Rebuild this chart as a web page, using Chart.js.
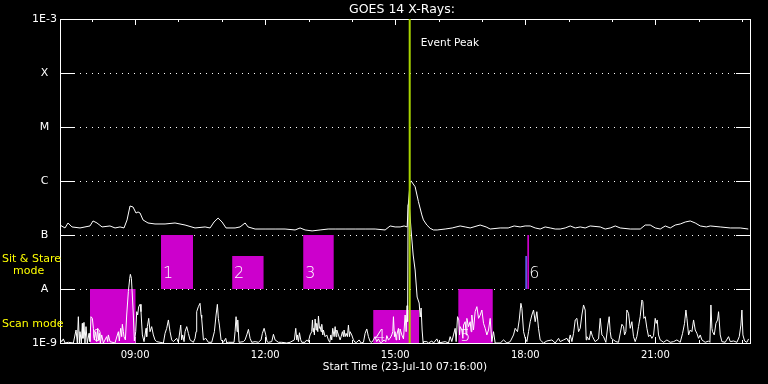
<!DOCTYPE html>
<html><head><meta charset="utf-8">
<script src="https://cdn.jsdelivr.net/npm/chart.js@4/dist/chart.umd.min.js"></script>
<style>html,body{margin:0;padding:0;background:#000;}canvas{display:block;}</style>
</head><body>
<canvas id="c" width="768" height="384"></canvas>
<script>
// ---------- data ----------
const chartTitle = 'GOES 14 X-Rays:';
const startTime = '07:16';
const startLabel = 'Start Time (23-Jul-10 07:16:00)';
const endMinutes = 955;                 // minutes since start shown on the axis
const timeTickLabels = ['09:00','12:00','15:00','18:00','21:00'];
const hourMarks = ['08:00','09:00','10:00','11:00','12:00','13:00','14:00','15:00','16:00','17:00','18:00','19:00','20:00','21:00','22:00','23:00'];
const levelValues = [1e-9,1e-8,1e-7,1e-6,1e-5,1e-4,1e-3];
const levelNames  = ['1E-9','A','B','C','M','X','1E-3'];
const eventPeakTime = '15:20';
const eventPeakLabel = 'Event Peak';
const modeLabels = ['Sit & Stare', 'mode', 'Scan mode'];

// long channel: [minutes since start, flux W/m2]
const longChannel = [[0,1.53e-7],[6.9,1.35e-7],[11.1,1.67e-7],[16.6,1.41e-7],[27.7,1.35e-7],[34.6,1.41e-7],[41.5,1.47e-7],[45.7,1.82e-7],[51.2,1.67e-7],[58.2,1.41e-7],[69.2,1.47e-7],[76.2,1.35e-7],[83.1,1.41e-7],[88.6,1.35e-7],[92.8,1.90e-7],[96.9,3.44e-7],[101.1,3.30e-7],[105.2,2.55e-7],[108,2.67e-7],[110.8,2.55e-7],[114.9,1.90e-7],[121.8,1.67e-7],[131.5,1.60e-7],[145.4,1.60e-7],[159.2,1.67e-7],[173.1,1.53e-7],[186.9,1.35e-7],[200.8,1.41e-7],[207.7,1.35e-7],[213.2,1.74e-7],[218.8,2.06e-7],[224.3,1.74e-7],[229.8,1.35e-7],[242.3,1.35e-7],[249.2,1.41e-7],[256.2,1.67e-7],[260.3,1.41e-7],[270,1.29e-7],[283.8,1.29e-7],[297.7,1.29e-7],[311.5,1.29e-7],[325.4,1.24e-7],[332.3,1.35e-7],[339.2,1.24e-7],[348.9,1.19e-7],[360,1.24e-7],[371.1,1.29e-7],[380.8,1.29e-7],[394.6,1.29e-7],[408.5,1.29e-7],[422.3,1.29e-7],[436.2,1.29e-7],[450,1.24e-7],[456.9,1.47e-7],[463.8,1.41e-7],[470.8,1.41e-7],[476.3,1.47e-7],[480.5,1.41e-7],[482,3.59e-7],[484.6,9.6e-7],[486,1.0e-6],[491.5,7.84e-7],[496.1,4.14e-7],[500.8,2.35e-7],[503,1.90e-7],[507.7,1.53e-7],[512.3,1.33e-7],[516.9,1.24e-7],[522,1.24e-7],[533.1,1.29e-7],[542.8,1.35e-7],[553.8,1.47e-7],[560.8,1.41e-7],[567.7,1.35e-7],[581.5,1.53e-7],[589.8,1.41e-7],[595.4,1.29e-7],[609.2,1.35e-7],[620.3,1.35e-7],[628.6,1.47e-7],[636.9,1.41e-7],[643.8,1.47e-7],[650.8,1.47e-7],[657.7,1.35e-7],[664.6,1.29e-7],[671.5,1.41e-7],[678.5,1.35e-7],[685.4,1.29e-7],[692.3,1.29e-7],[699.2,1.35e-7],[706.2,1.47e-7],[713.1,1.35e-7],[720,1.41e-7],[726.9,1.35e-7],[733.8,1.47e-7],[747.7,1.41e-7],[754.6,1.29e-7],[761.5,1.35e-7],[768.5,1.47e-7],[775.4,1.35e-7],[789.2,1.29e-7],[803.1,1.29e-7],[810,1.53e-7],[816.9,1.53e-7],[823.8,1.35e-7],[830.8,1.29e-7],[837.7,1.47e-7],[844.6,1.35e-7],[851.5,1.53e-7],[858.5,1.60e-7],[865.4,1.74e-7],[872.3,1.82e-7],[879.2,1.67e-7],[886.2,1.47e-7],[894.5,1.41e-7],[900,1.47e-7],[913.8,1.41e-7],[927.7,1.35e-7],[941.5,1.35e-7],[952.6,1.29e-7]];

// short channel: [minutes since start, flux W/m2]
const shortChannel = [[0,1.19e-9],[2.3,1.06e-9],[4.6,1.19e-9],[6.9,1e-9],[11.5,1.03e-9],[18.5,1e-9],[22.2,1.74e-9],[24.0,1e-9],[25.4,3.07e-9],[26.8,1e-9],[27.7,1.62e-9],[29.5,1e-9],[30.9,2.31e-9],[31.8,1.22e-9],[33.2,2.41e-9],[34.6,1e-9],[36.0,2.01e-9],[37.8,1e-9],[40.2,1.51e-9],[41.5,1.06e-9],[42.9,3.07e-9],[44.8,2.86e-9],[46.2,1.87e-9],[47.5,1.14e-9],[49.4,1.62e-9],[50.8,1.06e-9],[52.2,1.87e-9],[53.5,1.14e-9],[54.5,1.51e-9],[55.8,1e-9],[57.7,1.41e-9],[60,1e-9],[64.6,1.31e-9],[66.0,1.06e-9],[66.9,1.41e-9],[69.2,1.06e-9],[76.1,1e-9],[80.8,1.62e-9],[82.1,1.09e-9],[84.0,1.87e-9],[85.4,1.31e-9],[86.3,2.22e-9],[87.7,1.62e-9],[88.6,1.31e-9],[90.5,1.14e-9],[92.3,3.30e-9],[94.6,8.93e-9],[96.5,1.58e-8],[97.4,1.87e-8],[98.8,1.58e-8],[100.1,7.74e-9],[101.5,3.30e-9],[102.9,1.09e-9],[104.8,1.62e-9],[106.2,3.80e-9],[107.5,3.30e-9],[108.9,4.71e-9],[110.8,5.20e-9],[112.1,3.80e-9],[114.0,1.41e-9],[116.3,1.06e-9],[119.1,1.87e-9],[120.0,1.31e-9],[120.9,2.01e-9],[122.8,2.86e-9],[124.6,1.62e-9],[126.9,2.01e-9],[129.2,1.41e-9],[131.5,1.14e-9],[133.8,1.06e-9],[138.5,1.03e-9],[143.1,1e-9],[145.4,1.51e-9],[147.7,1.87e-9],[150,2.67e-9],[152.3,1.62e-9],[154.6,1.14e-9],[156.9,1.06e-9],[161.5,1.22e-9],[163.8,1.03e-9],[167.1,2.15e-9],[168.4,1.14e-9],[169.8,1.41e-9],[171.7,1.06e-9],[173.1,1.62e-9],[175.4,2.01e-9],[177.7,1.51e-9],[180.0,1.14e-9],[184.6,1.03e-9],[186.9,1.22e-9],[188.3,1.62e-9],[189.2,3.80e-9],[191.5,4.71e-9],[193.8,5.43e-9],[195.2,3.30e-9],[196.1,2.86e-9],[198.5,1.14e-9],[201.7,1.22e-9],[205.4,1.03e-9],[210,1.03e-9],[213.7,1.62e-9],[216,3.30e-9],[217.8,5.20e-9],[219.2,2.86e-9],[220.6,2.15e-9],[222.9,1.14e-9],[226.1,1.03e-9],[229.4,1.22e-9],[230.8,1e-9],[233.1,1.03e-9],[240.9,1.03e-9],
[242.3,1.62e-9],[243.7,3.07e-9],[245.1,1.62e-9],[246.0,2.67e-9],[247.8,1.03e-9],[253.8,1.06e-9],[256.1,1.14e-9],[258.5,1.41e-9],[260.8,1.79e-9],[263.1,1.22e-9],[265.4,1.03e-9],[270,1.06e-9],[274.6,1.03e-9],[278.3,1.14e-9],[280.1,1.51e-9],[282.5,1.87e-9],[284.8,1.41e-9],[286.6,1.06e-9],[288.5,1.03e-9],[293.1,1.06e-9],[295.4,1.45e-9],[297.7,1.14e-9],[302.3,1.03e-9],[306.9,1.03e-9],[313.8,1e-9],[318.4,1.03e-9],[324.4,1.14e-9],[326.3,1.87e-9],[327.7,1.14e-9],[328.6,1.41e-9],[330.0,1.06e-9],[331.4,1.55e-9],[333.2,1.14e-9],[334.6,1.03e-9],[339.2,1.03e-9],[341.5,1.14e-9],[343.8,1.06e-9],[346.1,1.41e-9],[348.4,1.62e-9],[349.4,2.67e-9],[350.3,1.62e-9],[351.2,1.87e-9],[352.1,1.41e-9],[353.1,2.78e-9],[354.4,1.74e-9],[355.4,2.31e-9],[356.8,1.62e-9],[357.7,3.16e-9],[359.1,1.87e-9],[360.0,2.01e-9],[361.4,1.62e-9],[362.3,2.22e-9],[363.7,1.41e-9],[364.6,1.74e-9],[366.9,1.31e-9],[369.2,1.41e-9],[371.5,1.14e-9],[373.4,1.03e-9],[374.8,1.41e-9],[376.1,1.14e-9],[377.5,1.87e-9],[379.4,1.31e-9],[380.8,2.01e-9],[382.1,1.31e-9],[383.1,1.74e-9],[385.4,1.41e-9],[387.7,1.14e-9],[389.1,1.31e-9],[390.9,1.62e-9],[392.3,1.31e-9],[393.2,1.74e-9],[394.6,1.31e-9],[396.0,1.51e-9],[397.8,1.31e-9],[399.2,2.15e-9],[400.6,1.31e-9],[401.5,1.62e-9],[403.8,1.41e-9],[406.1,1.14e-9],[408.4,1.03e-9],[410.7,1.03e-9],[414.0,1.14e-9],[416.8,1e-9],[420.0,1.03e-9],[422.3,1.51e-9],[424.6,1.82e-9],[426.9,1.31e-9],[429.2,1.06e-9],[431.5,1.03e-9],[433.8,1.14e-9],[436.1,1.31e-9],[438.4,1.06e-9],[440.7,1.19e-9],[443.1,1.03e-9],[445.4,1.03e-9],[448.6,1.14e-9],[450.9,1.06e-9],[452.3,1.37e-9],[454.6,1.14e-9],[456.9,1.22e-9],[459.2,1.41e-9],[460.6,1.62e-9],[461.5,3.07e-9],[462.9,1.31e-9],[463.8,1.62e-9],[465.2,1.14e-9],[466.1,1.41e-9],[468.4,1.87e-9],[469.8,1.14e-9],[470.7,1.82e-9],[473.1,1.41e-9],[475.4,1.19e-9],[477.7,3.30e-9],[479.1,1.62e-9],[480.4,4.91e-9],[481.1,2.5e-9],
[481.8,3.59e-7],[483.2,3.9e-7],[485.9,1.24e-7],[488.8,4.26e-8],[491.5,2.25e-8],[494.3,7.1e-9],[497.1,5.5e-9],[498.5,3.03e-9],[499.8,4.45e-9],[501.2,1.74e-9],[502.6,1e-9],
[503.1,1.06e-9],[507.7,1.06e-9],[510,1e-9],[514.6,1.09e-9],[517,1e-9],[521.6,1.19e-9],[523.9,1e-9],[533.1,1.06e-9],[537.7,1e-9],[540.0,1.31e-9],[542.3,1.06e-9],[544.6,1.41e-9],[546.9,1.87e-9],[548.3,1.06e-9],[550.2,3.07e-9],[552.0,2.67e-9],[553.0,1.41e-9],[553.9,2.01e-9],[556.2,1.74e-9],[557.6,1.22e-9],[558.5,2.15e-9],[560.8,2.48e-9],[562.2,1.41e-9],[563.1,2.86e-9],[565.4,2.01e-9],[567.7,2.48e-9],[569.1,1.62e-9],[570.0,3.30e-9],[572.3,1.74e-9],[574.6,3.80e-9],[577.0,4.71e-9],[579.3,2.86e-9],[581.6,3.30e-9],[583.9,4.08e-9],[586.2,2.31e-9],[588.5,1.87e-9],[590.8,1.41e-9],[593.1,1.74e-9],[595.4,2.86e-9],[597.7,1.06e-9],[600.0,1.62e-9],[602.3,1e-9],[609.3,1e-9],[613.9,1.14e-9],[618.5,1e-9],[623.1,1.06e-9],[627.7,1.41e-9],[630.0,1.87e-9],[633.2,1.62e-9],[635.6,2.67e-9],[637.9,5.43e-9],[639.3,4.38e-9],[641.6,1.62e-9],[643.9,1.22e-9],[646.2,1.06e-9],[648.5,1.62e-9],[650.8,2.48e-9],[653.1,3.30e-9],[655.4,4.08e-9],[657.7,2.48e-9],[660.0,3.80e-9],[662.3,1.87e-9],[664.6,1.14e-9],[669.2,1e-9],[673.9,1.09e-9],[680.8,1.14e-9],[685.4,1e-9],[690.0,1.22e-9],[692.3,1.06e-9],[696.9,1.14e-9],[701.6,1.22e-9],[703.9,1.06e-9],[706.2,1.41e-9],[708.5,1.06e-9],[710.8,1.51e-9],[713.1,2.67e-9],[715.4,2.86e-9],[717.7,1.62e-9],[720.0,1.87e-9],[722.3,3.30e-9],[724.6,5.06e-9],
[726.9,4.08e-9],[728.3,1.14e-9],[729.2,1.31e-9],[732.4,1.14e-9],[734.7,1.67e-9],[737.1,1.31e-9],[740.7,1.06e-9],[745.4,1.19e-9],[747.7,2.86e-9],[750.0,1.41e-9],[752.3,1.31e-9],[755.5,1.03e-9],[758.3,2.15e-9],[760.1,3.07e-9],[761.5,1.62e-9],[762.9,1.22e-9],[766.1,1.14e-9],[769.4,1.06e-9],[773.0,1.03e-9],[777.7,2.22e-9],[780.0,2.01e-9],[781.4,1.41e-9],[783.2,1.62e-9],[784.6,4.08e-9],[786.9,3.54e-9],[789.2,1.87e-9],[791.5,2.48e-9],[793.8,1.31e-9],[796.1,1.06e-9],[798.4,1.31e-9],[800.7,2.01e-9],[803.0,3.07e-9],[805.4,6.26e-9],[806.7,5.83e-9],[808.1,2.86e-9],[810.0,3.07e-9],[812.3,1.87e-9],[814.6,1.31e-9],[816.9,1.41e-9],[819.2,1.22e-9],[821.5,1.37e-9],[823.8,2.86e-9],[825.2,2.31e-9],[826.6,2.67e-9],[828.4,1.41e-9],[830.7,1.14e-9],[835.4,1.03e-9],[840.0,1.14e-9],[844.6,1.03e-9],[849.2,1.06e-9],[853.8,1.14e-9],[858.4,1.03e-9],[861.7,1.51e-9],[864.4,2.31e-9],[866.3,4.08e-9],[867.7,2.86e-9],[870.0,1.41e-9],[872.3,1.74e-9],[874.6,1.62e-9],[876.9,2.67e-9],[879.2,1.74e-9],[881.5,1.51e-9],[883.8,1.22e-9],[886.1,1.41e-9],[888.4,1.14e-9],[893.0,1.03e-9],[897.7,1.09e-9],[899.5,1.03e-9],[900.9,5.06e-9],[902.3,1.87e-9],[903.2,1.62e-9],[905.5,1.41e-9],[907.8,2.31e-9],[910.1,2.67e-9],[911.5,3.80e-9],[913.8,1.41e-9],[916.1,1.06e-9],[920.7,1.03e-9],[925.3,1.31e-9],[927.7,1.06e-9],[932.3,1.09e-9],[936.9,1.03e-9],[940.1,1.31e-9],[942.4,2.15e-9],[943.8,4.08e-9],[945.2,1.41e-9],[947.5,1.09e-9],[950.7,1.03e-9],[953.0,1.19e-9]];

// observation boxes
const boxLabels = ['0','1','2','3','4','5','','6'];
const boxStart  = [41.5, 139.8, 238.2, 336.5, 433.4, 551.1, 643.8, 646.6];
const boxEnd    = [104.8, 184.2, 282.0, 379.0, 497.1, 599.1, 646.6, 649.4];
const boxLow    = [1e-9, 1e-8, 1e-8, 1e-8, 1e-9, 1e-9, 1e-8, 1e-8];
const boxHigh   = [1e-8, 1e-7, 4.1e-8, 1e-7, 4.1e-9, 1e-8, 4.1e-8, 1e-7];
const boxMode   = ['scan','stare','stare','stare','scan','scan','alt','stare'];

// ---------- build ----------
const toMin = t => { const [h, m] = t.split(':').map(Number); return h * 60 + m; };
const sinceStart = t => toMin(t) - toMin(startTime);
const labelTicks = timeTickLabels.map(sinceStart);
const peakX = sinceStart(eventPeakTime);
const FONT = 'DejaVu Sans';
const modeColor = {scan: '#cc00cc', stare: '#cc00cc', alt: '#5a5ae6'};

const datasets = [];
datasets.push({data: [{x: peakX, y: 1e-3}, {x: peakX, y: 1e-9}], borderColor: '#a8d400', borderWidth: 2, order: 0, fill: false});
datasets.push({data: longChannel.map(p => ({x: p[0], y: p[1]})), borderColor: '#fff', borderWidth: 1, order: 1, fill: false});
datasets.push({data: shortChannel.map(p => ({x: p[0], y: p[1]})), borderColor: '#fff', borderWidth: 1, order: 2, fill: false});
boxLabels.forEach((lab, i) => {
  datasets.push({
    data: [{x: boxStart[i], y: boxHigh[i]}, {x: boxEnd[i], y: boxHigh[i]}],
    borderColor: 'rgba(0,0,0,0)', borderWidth: 1, backgroundColor: modeColor[boxMode[i]],
    fill: {value: boxLow[i]}, order: 5, boxIndex: i
  });
});

const framePlugin = {
  id: 'frame',
  beforeDatasetsDraw(chart) {
    const {ctx, chartArea: a, scales: {x, y}} = chart;
    ctx.save();
    ctx.strokeStyle = '#fff'; ctx.lineWidth = 1;
    levelValues.slice(1, -1).forEach(v => {
      const py = Math.round(y.getPixelForValue(v)) + 0.5;
      ctx.setLineDash([1, 5]);
      ctx.beginPath(); ctx.moveTo(a.left + 20, py); ctx.lineTo(a.right - 14, py); ctx.stroke();
      ctx.setLineDash([]);
      ctx.beginPath();
      ctx.moveTo(a.left, py); ctx.lineTo(a.left + 15, py);
      ctx.moveTo(a.right - 14, py); ctx.lineTo(a.right, py);
      ctx.stroke();
    });
    hourMarks.forEach(t => {
      const v = sinceStart(t);
      if (v < 0 || v > endMinutes) return;
      const px = Math.round(x.getPixelForValue(v)) + 0.5;
      const len = timeTickLabels.includes(t) ? 6 : 3;
      ctx.beginPath();
      ctx.moveTo(px, a.top); ctx.lineTo(px, a.top + len);
      ctx.moveTo(px, a.bottom); ctx.lineTo(px, a.bottom - len);
      ctx.stroke();
    });
    ctx.strokeRect(a.left + 0.5, a.top + 0.5, a.right - a.left, a.bottom - a.top);
    ctx.restore();
  },
  afterDatasetDraw(chart, args) {
    const ds = chart.data.datasets[args.index];
    if (ds.boxIndex === undefined) return;
    const i = ds.boxIndex;
    if (!boxLabels[i]) return;
    const {ctx, scales: {x, y}} = chart;
    ctx.save();
    ctx.fillStyle = '#fff';
    ctx.font = '200 16px "' + FONT + '"';
    ctx.textAlign = 'left'; ctx.textBaseline = 'alphabetic';
    const px = x.getPixelForValue(boxStart[i]) + 2;
    const py = y.getPixelForValue(boxLow[i]) - (boxMode[i] === 'scan' ? 2 : 11);
    ctx.fillText(boxLabels[i], px, py);
    ctx.restore();
  },
  afterDraw(chart) {
    const {ctx, chartArea: a, scales: {x, y}} = chart;
    ctx.save();
    ctx.fillStyle = '#fff';
    ctx.textBaseline = 'middle';
    ctx.textAlign = 'center';
    ctx.font = '12.5px "' + FONT + '"';
    ctx.fillText(chartTitle, (a.left + a.right) / 2 - 3, 10);
    ctx.textAlign = 'left';
    ctx.font = '10.5px "' + FONT + '"';
    ctx.fillText(eventPeakLabel, x.getPixelForValue(peakX) + 11, 43);
    ctx.fillStyle = '#ffff00';
    ctx.font = '11px "' + FONT + '"';
    const stareMid = (y.getPixelForValue(1e-8) + y.getPixelForValue(1e-7)) / 2;
    const scanMid = (y.getPixelForValue(1e-9) + y.getPixelForValue(1e-8)) / 2;
    ctx.fillText(modeLabels[0], 2, stareMid - 3);
    ctx.fillText(modeLabels[1], 13, stareMid + 9);
    ctx.fillText(modeLabels[2], 2, scanMid + 8);
    ctx.restore();
  }
};

new Chart(document.getElementById('c'), {
  type: 'line',
  data: {datasets},
  options: {
    responsive: false, animation: false, devicePixelRatio: 1,
    layout: {padding: {top: 19, right: 18, left: 0, bottom: 0}},
    plugins: {legend: {display: false}, tooltip: {enabled: false}, title: {display: false}},
    elements: {point: {radius: 0}, line: {tension: 0}},
    scales: {
      x: {
        type: 'linear', min: 0, max: endMinutes,
        grid: {display: false, drawTicks: false}, border: {display: false},
        afterBuildTicks: s => { s.ticks = labelTicks.map(v => ({value: v})); },
        ticks: {color: '#fff', font: {family: FONT, size: 10}, padding: 6, maxRotation: 0, autoSkip: false,
                callback: v => timeTickLabels[labelTicks.indexOf(v)]},
        title: {display: true, text: startLabel, color: '#fff', font: {family: FONT, size: 10.5}, padding: {top: 0, bottom: 10}},
        afterFit: s => { s.height = 41; }
      },
      y: {
        type: 'logarithmic', min: 1e-9, max: 1e-3,
        grid: {display: false, drawTicks: false}, border: {display: false},
        afterBuildTicks: s => { s.ticks = levelValues.map(v => ({value: v})); },
        ticks: {color: '#fff', font: {family: FONT, size: 11}, padding: 3, crossAlign: 'center', autoSkip: false,
                callback: v => levelNames[levelValues.indexOf(v)]},
        afterFit: s => { s.width = 60; }
      }
    }
  },
  plugins: [framePlugin]
});
</script>
</body></html>
